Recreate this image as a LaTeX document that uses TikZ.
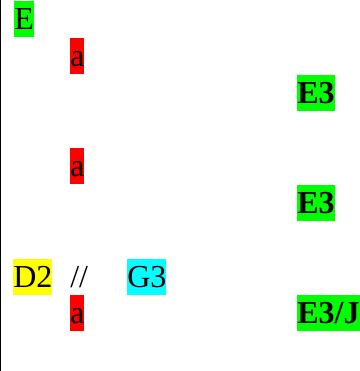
\documentclass[tikz,border=0pt]{standalone}
\usepackage{fontspec}
\setmainfont{Liberation Serif}
\usepackage{xcolor}
\usetikzlibrary{positioning}

\definecolor{chordgreen}{HTML}{00FF00}
\definecolor{chordred}{HTML}{FF0000}
\definecolor{chordyellow}{HTML}{FFFF00}
\definecolor{chordcyan}{HTML}{00FFFF}

\begin{document}
\begin{tikzpicture}[
  x=0.75pt, y=-0.75pt,
  % ── Style definitions ──
  sym/.style={
    rectangle, inner xsep=0pt, inner ysep=0pt, anchor=west,
    text height=21.5pt, text depth=5.5pt,
    font=\fontsize{24}{27}\selectfont
  },
  key/.style ={sym, fill=chordgreen},
  nt/.style  ={sym, fill=chordred},
  keyb/.style={key, font=\fontsize{24}{27}\selectfont\bfseries},
  yel/.style ={sym, fill=chordyellow},
  cyn/.style ={sym, fill=chordcyan}
]
\useasboundingbox (0,0) rectangle (360,371);
% ─────────── Left rule ──────────────────────────────────────
\draw[line width=1.1pt] (0.75,0) -- (0.75,371);

% ─────────── First block ────────────────────────────────────
\node[key]  (e)   at (14,19)    {E};
\node[nt]   (a1)  at (70,56)    {a};
\node[keyb] (e3a) at (297,92.5) {E3};

% ─────────── Second block ───────────────────────────────────
\node[nt]   (a2)  at (70,166)   {a};
\node[keyb] (e3b) at (297,203)  {E3};

% ─────────── Third block ────────────────────────────────────
\node[yel]  (d2)  at (13,276.5) {D2};
\node[sym]  (sep) at (70,276.5) {//};
\node[cyn]  (g3)  at (127,276.5) {G3};
\node[nt]   (a3)  at (70,313)   {a};
\node[keyb] (e3j) at (297,313)  {E3/J};
\end{tikzpicture}
\end{document}
